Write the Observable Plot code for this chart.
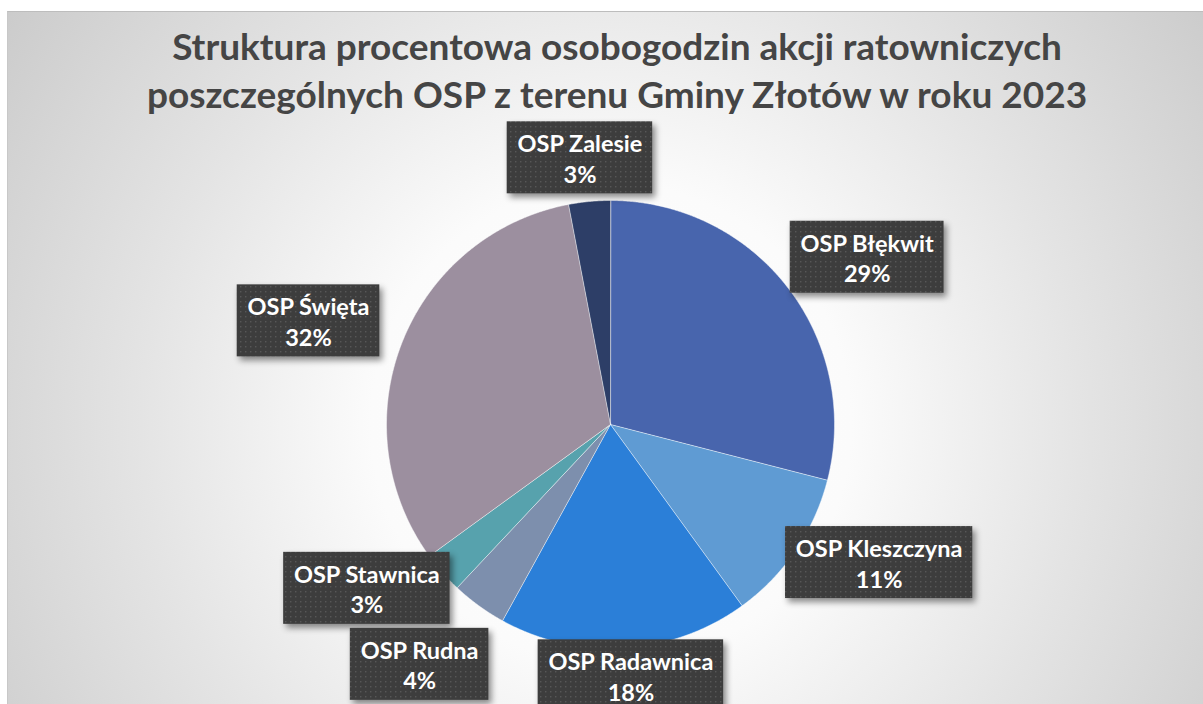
<!DOCTYPE html>
<html><head><meta charset="utf-8">
<script src="https://cdn.jsdelivr.net/npm/d3@7"></script>
<script src="https://cdn.jsdelivr.net/npm/@observablehq/plot@0.6"></script>
<style>
html,body{margin:0;padding:0;background:#fff;overflow:hidden;width:1203px;height:704px}
#frame{position:absolute;left:7px;top:11px;width:1220px;height:720px;border-top:1px solid #bdbdbd;border-left:1px solid #c8c8c8;
background:radial-gradient(circle at 603px 412px,#ffffff 0px,#fbfbfb 240px,#e4e4e4 470px,#c5c5c5 800px);}
#title{position:absolute;left:0;top:0;width:1218px;text-align:center;font-family:Lato,sans-serif;font-weight:bold;font-size:37px;line-height:48px;color:#454545;padding-top:10px}
#chart{position:absolute;left:0;top:107px}
</style></head><body>
<svg width="0" height="0" style="position:absolute">
<defs><pattern id="dots" width="5" height="5" patternUnits="userSpaceOnUse"><rect width="5" height="5" fill="#3d3d3d"/><rect x="2" y="2" width="1.4" height="1.4" fill="#575757"/></pattern></defs></svg>
<div id="frame"><div id="title">Struktura procentowa osobogodzin akcji ratowniczych<br>poszczególnych OSP z terenu Gminy Złotów w roku 2023</div><div id="chart"></div></div>
<script>
// ---- data ----
const names = ["OSP Błękwit", "OSP Kleszczyna", "OSP Radawnica", "OSP Rudna", "OSP Stawnica", "OSP Święta", "OSP Zalesie"];
const shares = [29, 11, 18, 4, 3, 32, 3];
const colors = ["#4865ad", "#5f9bd3", "#2b7fd8", "#7d8fad", "#57a2ad", "#9c8f9f", "#2d3e67"];

// ---- layout ----
const W = 1196, H = 600, CX = 602, CY = 305, R = 224;
const table = names.map((name, i) => ({name, share: shares[i], pct: shares[i] + "%"}));
const arcs = d3.pie().sort(null).value(d => d.share)(table);

const slicePts = [];
for (const a of arcs) {
  slicePts.push({name: a.data.name, x: 0, y: 0});
  const n = Math.max(2, Math.ceil((a.endAngle - a.startAngle) / 0.005));
  for (let k = 0; k <= n; k++) {
    const t = a.startAngle + (a.endAngle - a.startAngle) * k / n;
    slicePts.push({name: a.data.name, x: Math.sin(t), y: Math.cos(t)});
  }
}

// labels
const FS = 23.5;
const ctx = document.createElement("canvas").getContext("2d");
ctx.font = `bold ${FS}px Lato`;
const labels = arcs.map(a => {
  const m = (a.startAngle + a.endAngle) / 2;
  const tw = Math.max(ctx.measureText(a.data.name).width, ctx.measureText(a.data.pct).width);
  return {name: a.data.name, pct: a.data.pct, x: 1.45 * Math.sin(m), y: 8 / R + 1.16 * Math.cos(m), w: (tw + 20) / R, h: 72 / R};
});
const gap = 4 / R;
const order = labels.slice().sort((a, b) => b.y - a.y);
order.forEach((l, i) => {
  for (let j = 0; j < i; j++) {
    const o = order[j];
    if (Math.abs(l.x - o.x) < (l.w + o.w) / 2 && Math.abs(l.y - o.y) < (l.h + o.h) / 2 + gap) {
      l.y = o.y - (l.h + o.h) / 2 - gap;
    }
  }
});

const chart = Plot.plot({
  width: W, height: H, margin: 0,
  x: {domain: [-CX / R, (W - CX) / R], range: [0, W], axis: null},
  y: {domain: [-(H - CY) / R, CY / R], range: [H, 0], axis: null},
  color: {domain: names, range: colors},
  style: {background: "transparent", overflow: "visible"},
  marks: [
    Plot.line(slicePts, {x: "x", y: "y", z: "name", fill: "name", stroke: "#ffffff", strokeWidth: 0.8, strokeOpacity: 0.6, curve: "linear-closed"}),
    Plot.rect(labels, {x1: d => d.x - d.w / 2, x2: d => d.x + d.w / 2, y1: d => d.y - d.h / 2, y2: d => d.y + d.h / 2,
      fill: "url(#dots)", imageFilter: "drop-shadow(3px 4px 3px rgba(0,0,0,0.45))"}),
    Plot.text(labels, {x: "x", y: "y", text: d => d.name + "\n" + d.pct, fill: "white", fontSize: FS, fontWeight: "bold", fontFamily: "Lato", lineHeight: 1.3})
  ]
});
document.getElementById("chart").appendChild(chart);
</script>
</body></html>
